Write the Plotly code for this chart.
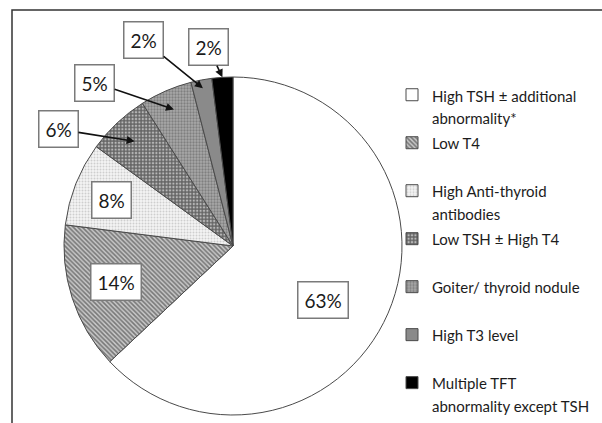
import math
import plotly.graph_objects as go

# Thyroid finding categories and their share of abnormal results (%)
categories = [
    "High TSH ± additional<br>abnormality*",
    "Low T4",
    "High Anti-thyroid<br>antibodies",
    "Low TSH ± High T4",
    "Goiter/ thyroid nodule",
    "High T3 level",
    "Multiple TFT<br>abnormality except TSH",
]
shares = [63, 14, 8, 6, 5, 2, 2]

# Greyscale fills and hatch patterns per slice
fill_colors = ["#ffffff", "#c8c8c8", "#f4f4f4", "#b8b8b8", "#a8a8a8", "#8a8a8a", "#000000"]
pattern_shapes = ["", "\\", ".", "+", ".", "", ""]
pattern_fg = ["#000000", "#262626", "#a8a8a8", "#0a0a0a", "#555555", "#000000", "#000000"]
pattern_size = [6, 3.2, 3, 3.4, 3, 6, 6]
pattern_solidity = [0.3, 0.5, 0.35, 0.62, 0.45, 0.3, 0.3]

W, H = 602, 423
CX, CY, R = 233, 246, 169  # pie centre and radius in pixels (from top-left)

LEGEND_PX = 15
LEGEND_SLOT = 17.3  # font size whose line spacing sets the row pitch


def legend_label(text):
    lines = text.split("<br>")
    if len(lines) == 1:
        lines.append(" ")
    return "<br>".join(
        f'<span style="font-size:{LEGEND_PX}px">{ln}</span>' for ln in lines
    )


fig = go.Figure(
    go.Pie(
        labels=[legend_label(c) for c in categories],
        values=shares,
        sort=False,
        direction="clockwise",
        rotation=0,
        textinfo="none",
        hoverinfo="label+percent",
        marker=dict(
            colors=fill_colors,
            line=dict(color="#4a4a4a", width=1),
            pattern=dict(
                shape=pattern_shapes,
                fgcolor=pattern_fg,
                bgcolor=fill_colors,
                size=pattern_size,
                solidity=pattern_solidity,
                fillmode="overlay",
            ),
        ),
        domain=dict(
            x=[(CX - R) / W, (CX + R) / W],
            y=[1 - (CY + R) / H, 1 - (CY - R) / H],
        ),
    )
)


def slice_point(idx, frac):
    """Paper coordinates of a point on the mid-angle of slice idx."""
    total = sum(shares)
    start = sum(shares[:idx]) / total * 360
    mid = start + shares[idx] / total * 360 / 2
    t = math.radians(mid)
    px = CX + frac * R * math.sin(t)
    py = CY - frac * R * math.cos(t)
    return px / W, 1 - py / H


# Label placement: (radial fraction, arrow?, dx, dy) in pixels
label_layout = [
    (0.62, False, -6, 12),
    (0.72, False, -1, -2),
    (0.765, False, -1, 2),
    (0.85, True, -76, -12),
    (0.88, True, -79, -27),
    (0.95, True, -59, -48),
    (1.0, True, -14, -30),
]

box_style = dict(
    font=dict(family="Lato", size=19, color="#1a1a1a"),
    bgcolor="#ffffff",
    bordercolor="#7a7a7a",
    borderwidth=1.5,
    borderpad=6,
    xanchor="center",
    yanchor="middle",
)

for i, (frac, arrow, dx, dy) in enumerate(label_layout):
    x, y = slice_point(i, frac)
    text = f"{shares[i]}%"
    if arrow:
        fig.add_annotation(
            x=x, y=y, xref="paper", yref="paper",
            text=text, showarrow=True,
            ax=dx, ay=dy, axref="pixel", ayref="pixel",
            arrowhead=2, arrowsize=1, arrowwidth=1.6, arrowcolor="#111111",
            standoff=0,
            **box_style,
        )
    else:
        fig.add_annotation(
            x=x, y=y, xref="paper", yref="paper",
            text=text, showarrow=False,
            xshift=dx, yshift=-dy,
            **box_style,
        )

# Outer frame, running off the right and bottom edges
fig.add_shape(
    type="rect", xref="paper", yref="paper",
    x0=12 / W, y0=-0.1, x1=1.1, y1=1 - 10 / H,
    line=dict(color="#333333", width=1.5),
    fillcolor="rgba(0,0,0,0)",
)

fig.update_layout(
    width=W,
    height=H,
    margin=dict(l=0, r=0, t=0, b=0),
    paper_bgcolor="#ffffff",
    plot_bgcolor="#ffffff",
    showlegend=True,
    legend=dict(
        x=392 / W, xanchor="left",
        y=1 - 77 / H, yanchor="top",
        valign="top",
        font=dict(family="Lato", size=LEGEND_SLOT, color="#1c1c1c"),
        bgcolor="rgba(0,0,0,0)",
        traceorder="normal",
    ),
)

fig.write_html("out.html")
